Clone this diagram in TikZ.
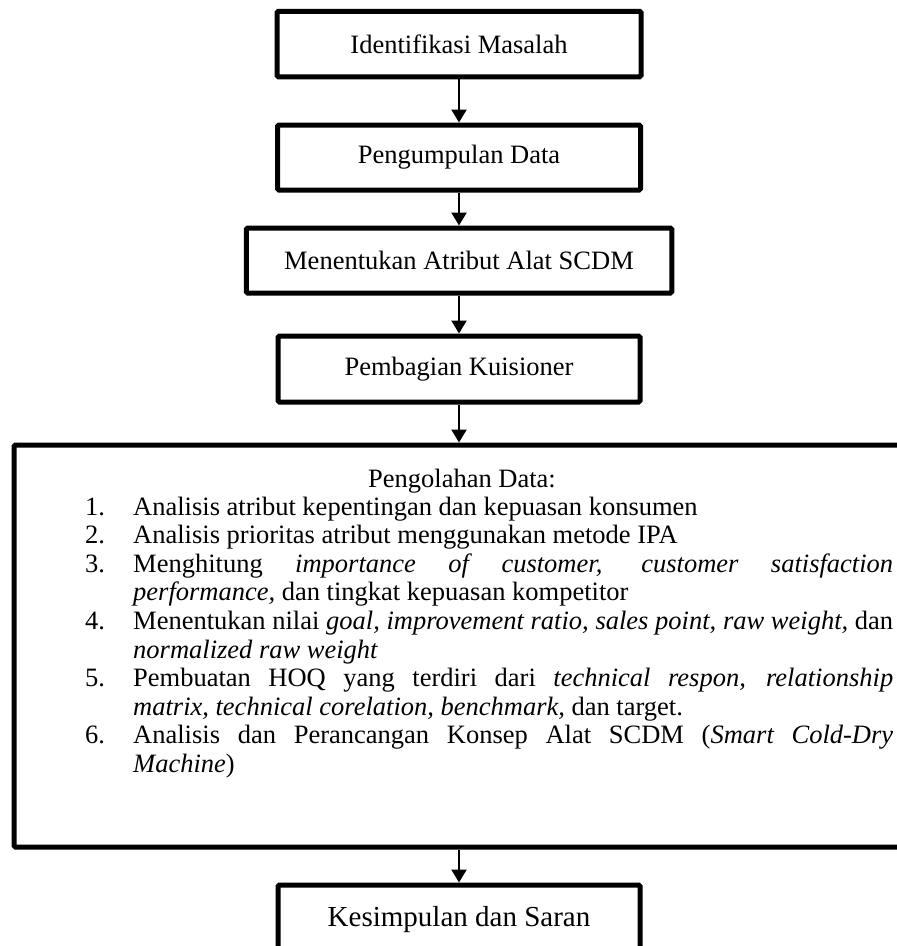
\documentclass[tikz,border=0pt]{standalone}
\usepackage{fontspec}
\setmainfont{Liberation Serif}
\usetikzlibrary{arrows.meta}
\newcommand\flowitem[1]{\par\noindent\hangindent=48pt\hangafter=1\makebox[48pt][l]{#1}}
\begin{document}
\begin{tikzpicture}[x=1pt,y=-1pt,
  box/.style={draw, line width=5pt, rounded corners=1.5pt, inner sep=0pt,
    font=\fontsize{26.5}{28.6}\selectfont, align=center},
  flow/.style={line width=2.3pt, -{Triangle[width=15pt,length=13pt]}},
  txt/.style={inner sep=0pt, font=\fontsize{26.5}{28.6}\selectfont}]
\useasboundingbox (0,0) rectangle (897,946);
\clip (0,0) rectangle (897,946);
\node[box, minimum width=364pt, minimum height=65.5pt] (b1) at (459,44) {Identifikasi Masalah};
\node[box, minimum width=363pt, minimum height=65pt] (b2) at (459,157.5) {Pengumpulan Data};
\node[box, minimum width=425.5pt, minimum height=65pt] (b3) at (459,260.5) {Menentukan Atribut Alat SCDM};
\node[box, minimum width=362pt, minimum height=66pt] (b4) at (459,369) {Pembagian Kuisioner};
\node[box, minimum width=896pt, minimum height=402pt] (proc) at (462,646) {};
\node[txt, anchor=base] (ptitle) at (462,487) {Pengolahan Data:};
\node[txt, anchor=base west] (plist) at (85,515) {\begin{minipage}[t]{808pt}
\fontsize{26.5}{28.6}\selectfont\parindent=0pt\parskip=0pt
\hyphenpenalty=10000\exhyphenpenalty=10000
\flowitem{1.}Analisis atribut kepentingan dan kepuasan konsumen
\flowitem{2.}Analisis prioritas atribut menggunakan metode IPA
\flowitem{3.}Menghitung \textit{importance of customer, customer satisfaction}\linebreak\textit{performance,} dan tingkat kepuasan kompetitor
\flowitem{4.}Menentukan nilai \textit{goal, improvement ratio, sales point, raw weight,} dan\linebreak\textit{normalized raw weight}
\flowitem{5.}Pembuatan HOQ yang terdiri dari \textit{technical respon, relationship}\linebreak\textit{matrix, technical corelation, benchmark,} dan target.
\flowitem{6.}Analisis dan Perancangan Konsep Alat SCDM (\textit{Smart Cold-Dry}\linebreak\textit{Machine})
\par
\end{minipage}};
\node[box, minimum width=362pt, minimum height=70pt, font=\fontsize{29}{32}\selectfont] (b6) at (459,920) {Kesimpulan dan Saran};
\draw[flow] (b1.south) -- (b2.north);
\draw[flow] (b2.south) -- (b3.north);
\draw[flow] (b3.south) -- (b4.north);
\draw[flow] (b4.south) -- (b4.south |- proc.north);
\draw[flow] (proc.south -| b6.north) -- (b6.north);
\end{tikzpicture}
\end{document}
